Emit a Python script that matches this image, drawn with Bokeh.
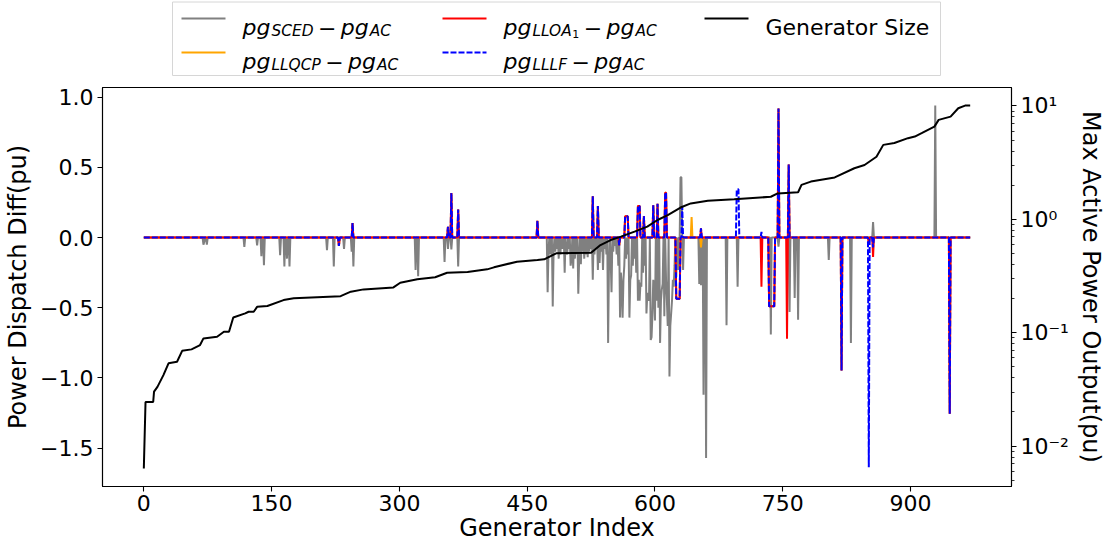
import numpy as np
from bokeh.plotting import figure
from bokeh.models import (Range1d, LogScale, LogAxis, FixedTicker,
                          CustomJSTickFormatter, ColumnDataSource)
from bokeh.layouts import column
from bokeh.embed import file_html
from bokeh.resources import INLINE
from bokeh.core.properties import value

# ---------------- data ----------------
N_GEN = 971  # generator indices 0..970

# pg_SCED - pg_AC  (non-zero entries: index, pu)
sced_spikes = [
    (70, -0.05), (71, -0.03), (74, -0.05), (118, -0.067), (133, -0.055), (138, -0.133),
    (141, -0.197), (160, -0.126), (165, -0.205), (168, -0.15), (171, -0.205), (215, -0.09),
    (223, -0.205), (235, -0.08), (244, -0.1), (246, -0.205), (319, -0.23), (322, -0.276),
    (353, -0.174), (357, -0.08), (361, -0.085), (369, -0.205),
    (474, -0.39), (475, -0.10), (477, -0.12), (480, -0.49), (481, -0.10), (483, -0.10),
    (485, -0.08), (487, -0.15), (489, -0.12), (491, -0.08), (494, -0.25), (496, -0.10),
    (497, -0.12), (499, -0.08), (501, -0.20), (502, -0.15), (504, -0.22), (506, -0.15),
    (508, -0.12), (510, -0.40), (511, -0.15), (513, -0.19), (515, -0.10), (517, -0.15),
    (519, -0.12), (521, -0.14), (523, -0.10), (525, -0.08), (527, -0.30), (529, -0.12),
    (531, -0.08), (533, -0.23), (535, -0.18), (537, -0.10), (539, -0.23), (541, -0.08),
    (543, -0.12), (545, -0.75), (546, -0.20), (548, -0.15), (549, -0.39), (551, -0.10),
    (553, -0.06), (555, -0.12), (557, -0.20), (559, -0.57), (560, -0.25), (561, -0.35),
    (562, -0.57), (563, -0.30), (564, -0.20), (566, -0.15), (568, -0.12), (570, -0.57),
    (571, -0.30), (572, -0.27), (574, -0.20), (576, -0.15), (578, -0.25), (580, -0.45),
    (581, -0.30), (582, -0.45), (583, -0.32), (584, -0.35), (586, -0.25), (588, -0.20),
    (590, -0.54), (591, -0.40), (592, -0.40), (593, -0.45), (595, -0.73), (596, -0.71),
    (597, -0.55), (598, -0.30), (599, -0.40), (600, -0.59), (602, -0.45), (604, -0.50),
    (606, -0.75), (607, -0.45), (608, -0.37), (609, -0.33), (611, -0.56), (613, -0.30),
    (614, -0.45), (615, -0.63), (617, -0.99), (618, -0.63), (619, -0.54), (620, -0.45),
    (621, -0.30), (622, -0.35), (623, -0.20), (625, -0.28), (627, -0.23), (630, 0.43),
    (631, 0.43), (633, -0.23), (652, -0.33), (654, -0.34), (657, -1.12), (660, -1.57),
    (684, -0.625), (697, -0.35), (736, -0.69), (745, -0.065), (758, -0.53), (764, -0.43),
    (768, -0.585), (804, -0.16), (830, -0.75), (856, 0.11), (929, 0.94),
]

# pg_LLLF - pg_AC
lllf_spikes = [
    (229, -0.06), (245, 0.104), (357, 0.076), (361, 0.318), (369, 0.20), (462, 0.12),
    (527, 0.294), (533, 0.225), (558, -0.055), (565, 0.152), (566, 0.152), (567, 0.152),
    (568, 0.152), (580, 0.225), (581, 0.225), (582, 0.225), (587, 0.154), (598, 0.23),
    (603, 0.24), (612, 0.32), (613, 0.32), (625, -0.435), (626, -0.435), (627, -0.435),
    (628, -0.435), (629, -0.435), (632, 0.22), (654, 0.065), (696, 0.344), (697, 0.344),
    (698, 0.344), (725, 0.04), (734, -0.49), (735, -0.49), (736, -0.49), (737, -0.49),
    (738, -0.49), (739, -0.49), (740, -0.49), (745, 0.92), (757, 0.52), (819, -0.946),
    (851, -1.635), (856, -0.07), (946, -1.255),
]

# pg_LLOA1 - pg_AC
lloa_spikes = [
    (229, -0.06), (245, 0.104), (357, 0.076), (361, 0.318), (369, 0.20), (462, 0.12),
    (527, 0.294), (533, 0.225), (558, -0.055), (565, 0.152), (566, 0.152), (567, 0.152),
    (568, 0.152), (580, 0.225), (581, 0.225), (582, 0.225), (587, 0.154), (598, 0.23),
    (603, 0.24), (612, 0.32), (613, 0.32), (625, -0.435), (626, -0.435), (627, -0.435),
    (628, -0.435), (629, -0.435), (654, 0.065), (725, -0.35), (734, -0.49), (735, -0.49),
    (736, -0.49), (737, -0.49), (738, -0.49), (739, -0.49), (740, -0.49), (745, 0.92),
    (755, -0.72), (757, 0.52), (819, -0.946), (851, -0.05), (856, -0.138), (946, -1.255),
]

# pg_LLQCP - pg_AC
llqcp_spikes = [
    (229, -0.06), (245, 0.104), (357, 0.076), (361, 0.318), (369, 0.20), (462, 0.12),
    (527, 0.294), (533, 0.225), (558, -0.055), (565, 0.152), (566, 0.152), (567, 0.152),
    (568, 0.152), (580, 0.225), (581, 0.225), (582, 0.225), (587, 0.154), (598, 0.23),
    (603, 0.24), (612, 0.32), (613, 0.32), (625, -0.435), (626, -0.435), (627, -0.435),
    (628, -0.435), (629, -0.435), (643, 0.147), (654, -0.07), (734, -0.49), (735, -0.49),
    (736, -0.49), (737, -0.49), (738, -0.49), (739, -0.49), (740, -0.49), (745, 0.92),
    (757, 0.52), (819, -0.946), (946, -1.255),
]

# Generator size (max active power output, pu), sorted, read at break points
size_idx = [0, 2, 11, 12, 16, 23, 29, 39, 45, 56, 66, 70, 86, 94, 100, 105, 119, 123, 129,
            133, 145, 164, 176, 231, 243, 258, 293, 301, 321, 342, 356, 380, 403, 411, 438,
            462, 470, 484, 525, 536, 548, 560, 576, 591, 603, 615, 630, 642, 662, 693, 736,
            744, 768, 772, 783, 811, 834, 846, 860, 868, 881, 897, 905, 913, 928, 933, 947,
            956, 964, 970]
size_val = [0.00635, 0.0245, 0.0245, 0.0302, 0.0333, 0.0423, 0.0537, 0.0555, 0.0692, 0.0713,
            0.0778, 0.0891, 0.092, 0.102, 0.102, 0.136, 0.148, 0.153, 0.153, 0.169, 0.172,
            0.194, 0.201, 0.210, 0.230, 0.241, 0.251, 0.276, 0.296, 0.308, 0.338, 0.343,
            0.362, 0.377, 0.423, 0.438, 0.444, 0.501, 0.507, 0.593, 0.656, 0.703, 0.778,
            0.861, 0.986, 1.09, 1.27, 1.38, 1.46, 1.50, 1.58, 1.69, 1.73, 2.01, 2.15, 2.34,
            2.82, 3.01, 3.56, 4.53, 4.71, 5.19, 5.36, 5.74, 6.56, 7.52, 8.04, 9.53, 10.05, 10.05]

x_ticks = [0, 150, 300, 450, 600, 750, 900]
y_ticks = [-1.5, -1.0, -0.5, 0.0, 0.5, 1.0]
size_ticks = [0.01, 0.1, 1, 10]


def full_series(spikes):
    y = np.zeros(N_GEN)
    for i, v in spikes:
        y[i] = v
    return y


gen = np.arange(N_GEN)
src = ColumnDataSource(dict(
    x=gen,
    sced=full_series(sced_spikes),
    llqcp=full_series(llqcp_spikes),
    lloa=full_series(lloa_spikes),
    lllf=full_series(lllf_spikes),
))

FONT = "DejaVu Sans"
FS = 22        # tick / legend text
FS_LAB = 24    # axis titles
DASH = "6 2"
BL, BR = 102, 100   # left / right borders (px) shared by both stacked figures

# ---------------- main figure ----------------
p = figure(width=1111, height=468, output_backend="svg", toolbar_location=None,
           x_range=Range1d(-48.5, 1018.5), y_range=Range1d(-1.773, 1.069),
           min_border_left=BL, min_border_right=BR, min_border_top=7,
           min_border_bottom=62)
p.extra_y_ranges = {"size": Range1d(0.004406, 14.52)}
p.extra_y_scales = {"size": LogScale()}

p.line("x", "sced", source=src, line_color="gray", line_width=2)
p.line("x", "llqcp", source=src, line_color="orange", line_width=2)
p.line("x", "lloa", source=src, line_color="red", line_width=2)
p.line("x", "lllf", source=src, line_color="blue", line_width=2, line_dash=DASH)
p.line(size_idx, size_val, line_color="black", line_width=2, y_range_name="size")

p.grid.visible = False
p.outline_line_color = "black"
p.outline_line_width = 1.1
p.background_fill_color = "white"
p.border_fill_color = "white"

for ax in (p.xaxis[0], p.yaxis[0]):
    ax.axis_line_color = "black"
    ax.axis_line_width = 1.1
    ax.major_tick_out = 5
    ax.major_tick_in = 0
    ax.major_tick_line_width = 1.1
    ax.minor_tick_line_color = None
    ax.major_label_text_font = FONT
    ax.major_label_text_font_size = f"{FS}px"
    ax.major_label_text_color = "black"
    ax.axis_label_text_font = FONT
    ax.axis_label_text_font_size = f"{FS_LAB}px"
    ax.axis_label_text_font_style = "normal"
    ax.axis_label_text_color = "black"

p.xaxis.ticker = FixedTicker(ticks=x_ticks)
p.xaxis.axis_label = "Generator Index"
p.xaxis.major_label_standoff = 3
p.xaxis.axis_label_standoff = 0

p.yaxis.ticker = FixedTicker(ticks=y_ticks)
p.yaxis.formatter = CustomJSTickFormatter(
    code="return (tick < 0 ? '\u2212' : '') + Math.abs(tick).toFixed(1);")
p.yaxis.axis_label = "Power Dispatch Diff(pu)"
p.yaxis.major_label_standoff = 4
p.yaxis.axis_label_standoff = 5

minor = [m * 10.0 ** k for k in range(-3, 2) for m in range(2, 10)]
minor = [v for v in minor if 0.004406 <= v <= 14.52]
rax = LogAxis(y_range_name="size",
              ticker=FixedTicker(ticks=size_ticks, minor_ticks=minor),
              formatter=CustomJSTickFormatter(code="""
                const sup = {'-': '\u207b', '0': '\u2070', '1': '\u00b9', '2': '\u00b2', '3': '\u00b3'};
                const e = Math.round(Math.log10(tick));
                return '10' + String(e).split('').map(c => sup[c]).join('');
              """))
rax.axis_line_color = "black"
rax.axis_line_width = 1.1
rax.major_tick_out = 5
rax.major_tick_in = 0
rax.major_tick_line_width = 1.1
rax.minor_tick_out = 3
rax.minor_tick_in = 0
rax.minor_tick_line_width = 0.8
rax.major_label_text_font = FONT
rax.major_label_text_font_size = f"{FS}px"
rax.major_label_text_color = "black"
rax.major_label_standoff = 4
rax.axis_label = "Max Active Power Output(pu)"
rax.axis_label_text_font = FONT
rax.axis_label_text_font_size = f"{FS_LAB}px"
rax.axis_label_text_font_style = "normal"
rax.axis_label_text_color = "black"
rax.axis_label_standoff = 5
p.add_layout(rax, "right")

# ---------------- legend (its own strip above the axes; coordinates = page px) ----------------
lg = figure(width=1111, height=80, output_backend="svg", toolbar_location=None,
            x_range=Range1d(BL, 1111 - BR), y_range=Range1d(80, 0),
            x_axis_type=None, y_axis_type=None,
            min_border_left=BL, min_border_right=BR, min_border_top=0, min_border_bottom=0)
lg.grid.visible = False
lg.outline_line_color = None
lg.background_fill_color = "white"
lg.border_fill_color = "white"

lg.quad(left=[172], right=[940], top=[1.5], bottom=[75], fill_color="white",
        line_color="#d6d6d6", line_width=1)

ADV = {'p': 0.635, 'g': 0.635, 'S': 0.635, 'C': 0.698, 'E': 0.632, 'D': 0.770,
       'A': 0.684, 'L': 0.557, 'O': 0.787, 'Q': 0.787, 'P': 0.603, 'F': 0.575,
       '1': 0.636, '\u2212': 0.838}
SUB = FS * 0.7
SUBSUB = FS * 0.5


def wid(s, size):
    return sum(ADV[c] for c in s) * size


pieces = dict(x=[], y=[], text=[], size=[], style=[])


def put(t, x, y, size, style):
    pieces["x"].append(x)
    pieces["y"].append(y)
    pieces["text"].append(t)
    pieces["size"].append(f"{size:.1f}px")
    pieces["style"].append(style)


def math_label(x, base, sub, subsub=None):
    put("pg", x, base, FS, "italic")
    x += wid("pg", FS) + 1
    put(sub, x, base + 3, SUB, "italic")
    x += wid(sub, SUB)
    if subsub:
        put(subsub, x, base + 6, SUBSUB, "normal")
        x += wid(subsub, SUBSUB)
    x += 0.2 * FS
    put("\u2212", x, base, FS, "normal")
    x += wid("\u2212", FS) + 0.2 * FS
    put("pg", x, base, FS, "italic")
    x += wid("pg", FS) + 1
    put("AC", x, base + 3, SUB, "italic")


ROW_BASE = [27, 61]
COL_LINE = [181, 442, 704]
HANDLE = 44
TEXT_PAD = 17

entries = [  # (col, row, color, dash, label parts)
    (0, 0, "gray", "solid", ("SCED", None)),
    (0, 1, "orange", "solid", ("LLQCP", None)),
    (1, 0, "red", "solid", ("LLOA", "1")),
    (1, 1, "blue", DASH, ("LLLF", None)),
    (2, 0, "black", "solid", None),
]
for col, row, color, dash, lab in entries:
    x0 = COL_LINE[col]
    yl = ROW_BASE[row] - 9
    lg.line([x0, x0 + HANDLE], [yl, yl], line_color=color, line_width=2, line_dash=dash)
    tx = x0 + HANDLE + TEXT_PAD
    if lab is None:
        put("Generator Size", tx, ROW_BASE[row], FS, "normal")
    else:
        math_label(tx, ROW_BASE[row], lab[0], lab[1])

lg.text(x="x", y="y", text="text", source=ColumnDataSource(pieces),
        text_font=value(FONT), text_font_size="size", text_font_style="style",
        text_baseline="alphabetic", text_align="left", text_color="black")

layout = column(lg, p, spacing=0)
open("out.html", "w").write(file_html(layout, INLINE))
